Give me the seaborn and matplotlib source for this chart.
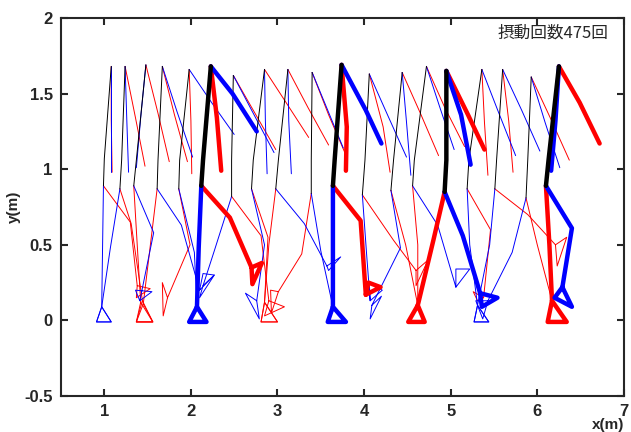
import numpy as np
import pandas as pd
import matplotlib
matplotlib.use("Agg")
import matplotlib.pyplot as plt
import seaborn as sns

# ==========================================
# Data (stick figure frames, metres)
# ==========================================

shoulder_x = [1.08, 1.24, 1.48, 1.67, 1.98, 2.23, 2.49, 2.85, 3.12, 3.40, 3.74, 4.06, 4.44, 4.72, 4.95, 5.36, 5.60, 5.93, 6.25]
shoulder_y = [1.68, 1.68, 1.69, 1.68, 1.66, 1.68, 1.62, 1.66, 1.66, 1.64, 1.69, 1.63, 1.64, 1.68, 1.65, 1.66, 1.66, 1.61, 1.68]
waist_x = [1.00, 1.20, 1.37, 1.62, 1.87, 2.14, 2.47, 2.72, 3.01, 3.39, 3.66, 4.01, 4.34, 4.58, 4.95, 5.21, 5.53, 5.89, 6.13]
waist_y = [1.07, 1.06, 1.06, 1.06, 1.06, 1.06, 1.06, 1.06, 1.06, 1.06, 1.06, 1.06, 1.06, 1.06, 1.06, 1.06, 1.06, 1.06, 1.06]
hip_x = [0.99, 1.18, 1.34, 1.61, 1.86, 2.12, 2.47, 2.70, 2.98, 3.39, 3.64, 3.98, 4.31, 4.56, 4.93, 5.19, 5.51, 5.87, 6.10]
hip_y = [0.89, 0.87, 0.89, 0.87, 0.87, 0.89, 0.82, 0.87, 0.87, 0.84, 0.89, 0.83, 0.86, 0.89, 0.85, 0.87, 0.87, 0.81, 0.89]

# arms: elbow / hand
red_elbow_x = [1.08, 1.36, 1.62, 1.81, 2.00, 2.30, 2.73, 3.10, 3.35, 3.59, 3.80, 4.22, 4.65, 4.93, 5.20, 5.39, 5.67, 6.15, 6.49]
red_elbow_y = [1.33, 1.34, 1.37, 1.36, 1.32, 1.34, 1.38, 1.44, 1.41, 1.36, 1.28, 1.28, 1.37, 1.41, 1.36, 1.31, 1.32, 1.34, 1.44]
red_hand_x = [1.09, 1.47, 1.75, 1.96, 2.01, 2.35, 2.98, 3.36, 3.59, 3.80, 3.79, 4.30, 4.86, 5.16, 5.39, 5.43, 5.72, 6.37, 6.72]
red_hand_y = [0.98, 1.02, 1.05, 1.05, 0.97, 0.99, 1.13, 1.21, 1.16, 1.08, 0.99, 0.98, 1.09, 1.15, 1.13, 0.96, 0.98, 1.06, 1.17]
blue_elbow_x = [1.08, 1.26, 1.42, 1.84, 2.24, 2.48, 2.72, 2.86, 3.13, 3.58, 4.02, 4.27, 4.49, 4.88, 5.12, 5.55, 5.82, 6.09, 6.21]
blue_elbow_y = [1.33, 1.32, 1.34, 1.38, 1.44, 1.50, 1.37, 1.32, 1.32, 1.39, 1.39, 1.36, 1.31, 1.40, 1.36, 1.38, 1.39, 1.31, 1.32]
blue_hand_x = [1.08, 1.28, 1.37, 2.02, 2.50, 2.76, 2.96, 2.88, 3.16, 3.76, 4.20, 4.49, 4.54, 5.04, 5.23, 5.75, 6.03, 6.26, 6.16]
blue_hand_y = [0.98, 0.98, 1.01, 1.08, 1.23, 1.25, 1.11, 0.97, 0.97, 1.14, 1.17, 1.08, 0.96, 1.13, 1.03, 1.09, 1.12, 1.01, 0.99]

# legs: knee / ankle / toe / heel
red_knee_x = [1.30, 1.31, 1.38, 1.53, 1.99, 2.45, 2.81, 2.89, 2.90, 3.28, 3.96, 4.34, 4.48, 4.62, 4.80, 5.46, 5.89, 6.00, 6.14]
red_knee_y = [0.65, 0.64, 0.50, 0.49, 0.50, 0.68, 0.56, 0.55, 0.50, 0.44, 0.66, 0.53, 0.50, 0.50, 0.53, 0.60, 0.70, 0.50, 0.50]
red_ankle_x = [1.38, 1.44, 1.42, 1.45, 1.73, 2.70, 2.90, 2.85, 2.85, 3.01, 4.02, 4.60, 4.62, 4.62, 4.62, 5.38, 6.21, 6.17, 6.17]
red_ankle_y = [0.23, 0.13, 0.12, 0.11, 0.15, 0.35, 0.13, 0.12, 0.12, 0.19, 0.17, 0.33, 0.10, 0.10, 0.10, 0.15, 0.50, 0.13, 0.13]
red_toe_x = [1.53, 1.56, 1.56, 1.56, 1.68, 2.82, 3.08, 3.00, 3.00, 2.93, 4.19, 4.74, 4.70, 4.70, 4.70, 5.26, 6.34, 6.34, 6.34]
red_toe_y = [0.21, -0.01, -0.01, -0.01, 0.03, 0.38, 0.09, -0.01, -0.01, 0.05, 0.22, 0.40, -0.01, -0.01, -0.01, 0.19, 0.55, -0.01, -0.01]
red_heel_x = [1.37, 1.37, 1.37, 1.37, 1.67, 2.71, 2.85, 2.81, 2.81, 2.92, 4.05, 4.60, 4.51, 4.51, 4.51, 5.31, 6.23, 6.12, 6.12]
red_heel_y = [0.15, -0.01, -0.01, -0.01, 0.25, 0.24, 0.03, -0.01, -0.01, 0.20, 0.25, 0.23, -0.01, -0.01, -0.01, 0.13, 0.36, -0.01, -0.01]

blue_knee_x = [0.98, 1.07, 1.57, 1.89, 2.04, 2.09, 2.27, 2.85, 3.31, 3.50, 3.64, 4.03, 4.42, 4.85, 5.14, 5.22, 5.45, 5.71, 6.40]
blue_knee_y = [0.49, 0.48, 0.58, 0.63, 0.45, 0.48, 0.46, 0.50, 0.64, 0.46, 0.49, 0.43, 0.48, 0.63, 0.56, 0.50, 0.50, 0.45, 0.61]
blue_ankle_x = [0.97, 0.97, 1.41, 2.10, 2.07, 2.07, 2.14, 2.76, 3.57, 3.64, 3.64, 4.07, 4.09, 5.06, 5.34, 5.31, 5.31, 5.43, 6.29]
blue_ankle_y = [0.09, 0.09, 0.13, 0.20, 0.09, 0.09, 0.23, 0.13, 0.36, 0.09, 0.09, 0.13, 0.10, 0.22, 0.18, 0.10, 0.10, 0.13, 0.22]
blue_toe_x = [1.08, 1.08, 1.55, 2.27, 2.18, 2.18, 2.10, 2.63, 3.73, 3.79, 3.79, 4.21, 4.07, 5.22, 5.54, 5.44, 5.44, 5.37, 6.40]
blue_toe_y = [-0.01, -0.01, 0.19, 0.30, -0.01, -0.01, 0.15, 0.18, 0.42, -0.01, -0.01, 0.20, 0.01, 0.34, 0.15, -0.01, -0.01, 0.01, 0.09]
blue_heel_x = [0.91, 0.91, 1.36, 2.14, 1.98, 1.98, 2.27, 2.79, 3.59, 3.58, 3.58, 4.06, 4.20, 5.06, 5.36, 5.27, 5.27, 5.29, 6.20]
blue_heel_y = [-0.01, -0.01, 0.20, 0.31, -0.01, -0.01, 0.30, 0.01, 0.33, -0.01, -0.01, 0.25, 0.16, 0.34, 0.09, -0.01, -0.01, 0.13, 0.15]

thick_frames = [5, 10, 14, 18]
label_text = "摂動回数475回"

# ==========================================
# Build long table of line segments
# ==========================================

rows = []
for i in range(len(hip_x)):
    sh = (shoulder_x[i], shoulder_y[i])
    wa = (waist_x[i], waist_y[i])
    hp = (hip_x[i], hip_y[i])
    parts = {
        "trunk": ("black", [sh, wa, hp]),
        "red_arm": ("red", [sh, (red_elbow_x[i], red_elbow_y[i]), (red_hand_x[i], red_hand_y[i])]),
        "blue_arm": ("blue", [sh, (blue_elbow_x[i], blue_elbow_y[i]), (blue_hand_x[i], blue_hand_y[i])]),
        "red_leg": ("red", [hp, (red_knee_x[i], red_knee_y[i]), (red_ankle_x[i], red_ankle_y[i]),
                            (red_toe_x[i], red_toe_y[i]), (red_heel_x[i], red_heel_y[i]),
                            (red_ankle_x[i], red_ankle_y[i])]),
        "blue_leg": ("blue", [hp, (blue_knee_x[i], blue_knee_y[i]), (blue_ankle_x[i], blue_ankle_y[i]),
                              (blue_toe_x[i], blue_toe_y[i]), (blue_heel_x[i], blue_heel_y[i]),
                              (blue_ankle_x[i], blue_ankle_y[i])]),
    }
    for name, (col, pts) in parts.items():
        for k, (px, py) in enumerate(pts):
            rows.append({"frame": i, "part": f"{i}_{name}", "color": col,
                         "thick": i in thick_frames, "order": k, "x": px, "y": py})

df = pd.DataFrame(rows)

# ==========================================
# Plot
# ==========================================

sns.set_style("ticks")
plt.rcParams["font.family"] = ["Liberation Sans", "Noto Sans CJK JP", "DejaVu Sans"]

fig = plt.figure(figsize=(6.31, 4.32), dpi=100)
ax = fig.add_axes([0.0967, 0.0833, 0.892, 0.875])

for thick in [False, True]:
    lw = 3.2 if thick else 0.7
    for col in ["red", "blue", "black"]:
        sub = df[(df["thick"] == thick) & (df["color"] == col)]
        if len(sub) == 0:
            continue
        sns.lineplot(data=sub, x="x", y="y", units="part", estimator=None,
                     sort=False, color=col, lw=lw, ax=ax, legend=False)

ax.set_xlim(0.5, 7)
ax.set_ylim(-0.5, 2)
ax.set_xticks([1, 2, 3, 4, 5, 6, 7])
ax.set_yticks([-0.5, 0, 0.5, 1, 1.5, 2])
ax.set_xticklabels(["1", "2", "3", "4", "5", "6", "7"])
ax.set_yticklabels(["-0.5", "0", "0.5", "1", "1.5", "2"])
ax.tick_params(direction="in", length=5, width=1.5, top=True, right=True,
               labelsize=12, pad=6)
for lab in ax.get_xticklabels() + ax.get_yticklabels():
    lab.set_fontweight("bold")
for sp in ax.spines.values():
    sp.set_linewidth(1.5)
    sp.set_visible(True)

ax.set_xlabel("x(m)", fontsize=11, fontweight="bold", loc="right", labelpad=-1)
ax.set_ylabel("y(m)", fontsize=11, fontweight="bold", labelpad=2)

ax.text(0.972, 0.982, label_text, transform=ax.transAxes, ha="right", va="top",
        fontsize=12, family=["Noto Sans CJK JP", "DejaVu Sans"])

fig.savefig("out.png", dpi=100)
